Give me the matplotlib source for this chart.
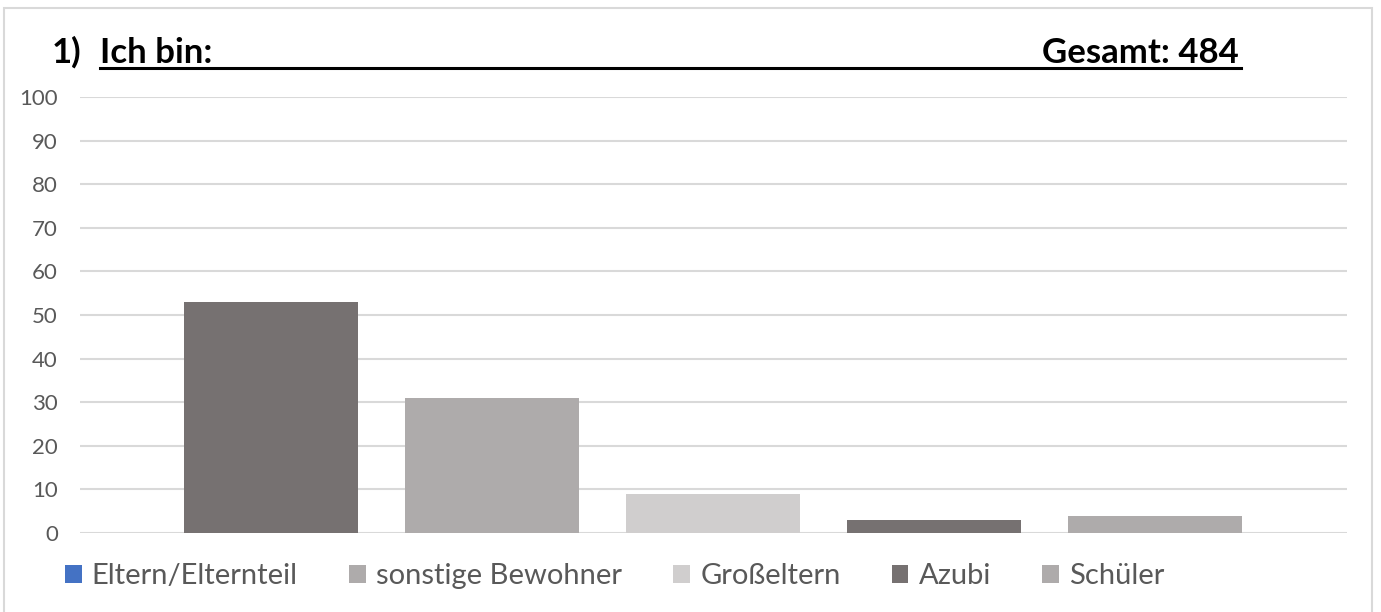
import numpy as np
import matplotlib.pyplot as plt
from matplotlib.patches import Patch, Rectangle
from matplotlib.lines import Line2D

plt.rcParams["font.family"] = ["Lato", "DejaVu Sans"]

# Daten aus dem Diagramm
categories = ["Eltern/Elternteil", "sonstige Bewohner", "Großeltern", "Azubi", "Schüler"]
values = [53, 31, 9, 3, 4]
bar_colors = ["#767171", "#AEABAB", "#D0CECE", "#767171", "#AEABAB"]
legend_colors = ["#4472C4", "#AEABAB", "#D0CECE", "#767171", "#AEABAB"]
yticks = list(range(0, 101, 10))
total = 484

W, H = 1381, 612
fig = plt.figure(figsize=(W / 100, H / 100), dpi=100)

# Rahmen um das Diagramm
fig.patches.append(Rectangle((4 / W, -0.01), 1368 / W, 1 - 8 / H + 0.01,
                             transform=fig.transFigure, fill=False,
                             edgecolor="#D9D9D9", linewidth=1.5))

ax = fig.add_axes([80 / W, 1 - 533 / H, 1267 / W, 436 / H])
x = np.arange(len(values))
ax.bar(x, values, width=0.787, color=bar_colors, zorder=2)

ax.set_ylim(0, 100)
ax.set_xlim(-0.864, len(values) - 1 + 0.869)
ax.set_yticks(yticks)
ax.set_xticks([])
ax.grid(axis="y", color="#D9D9D9", linewidth=1.5, zorder=0)
for s in ax.spines.values():
    s.set_visible(False)
ax.tick_params(axis="y", length=0, pad=16, labelsize=16, labelcolor="#595959")

# Titel mit Unterstreichung
fig.text(52 / W, 1 - 63 / H, "1)", fontsize=25, fontweight="bold", va="baseline")
fig.text(100 / W, 1 - 63 / H, "Ich bin:", fontsize=25, fontweight="bold", va="baseline")
fig.text(1239 / W, 1 - 63 / H, f"Gesamt: {total}", fontsize=25, fontweight="bold",
         va="baseline", ha="right")
fig.add_artist(Line2D([100 / W, 1241 / W], [1 - 68 / H, 1 - 68 / H],
                      transform=fig.transFigure, color="black", linewidth=2.2))

handles = [Patch(facecolor=c, edgecolor="none") for c in legend_colors]
fig.legend(handles, categories, loc="center left", bbox_to_anchor=(53 / W, 1 - 576 / H),
           ncol=5, frameon=False, fontsize=21, labelcolor="#595959",
           handlelength=0.58, handleheight=0.58, handletextpad=0.35,
           columnspacing=1.75, borderaxespad=0)

fig.savefig("out.png", dpi=100)
